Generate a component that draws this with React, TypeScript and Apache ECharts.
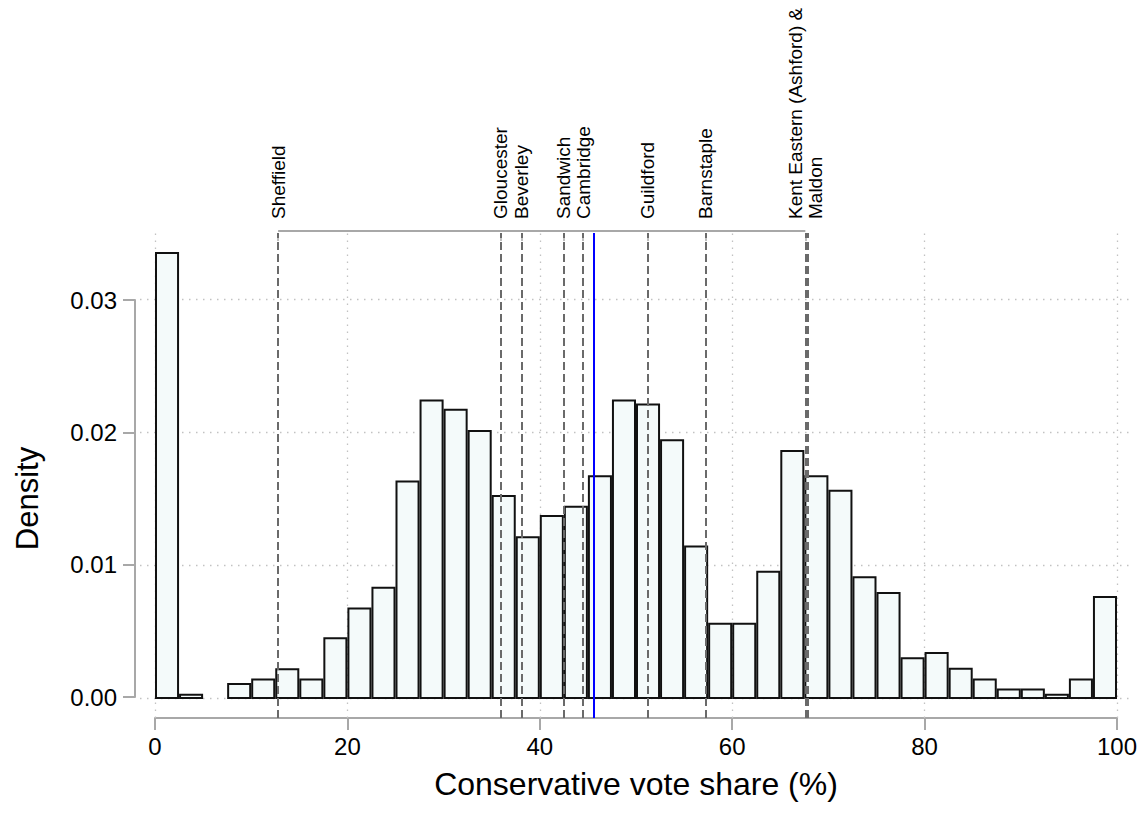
import React, { useEffect, useRef } from "react";
import * as echarts from "echarts";

// Histogram bins (Conservative vote share, %)
const binStart = [
  0, 2.5, 5, 7.5, 10, 12.5, 15, 17.5, 20, 22.5, 25, 27.5, 30, 32.5, 35, 37.5, 40, 42.5, 45, 47.5,
  50, 52.5, 55, 57.5, 60, 62.5, 65, 67.5, 70, 72.5, 75, 77.5, 80, 82.5, 85, 87.5, 90, 92.5, 95, 97.5,
];
const binWidth = 2.5;
const density = [
  0.0335, 0.00025, 0, 0.00105, 0.0014, 0.00216, 0.0014, 0.0045, 0.00675, 0.0083,
  0.0163, 0.0224, 0.0217, 0.0201, 0.0152, 0.0121, 0.0137, 0.0144, 0.0167, 0.0224,
  0.0221, 0.0194, 0.0114, 0.0056, 0.0056, 0.0095, 0.0186, 0.0167, 0.0156, 0.0091,
  0.0079, 0.003, 0.0034, 0.0022, 0.0014, 0.00065, 0.00065, 0.00025, 0.0014, 0.0076,
];

// Reference constituencies (dashed lines)
const constituencies = [
  "Sheffield", "Gloucester", "Beverley", "Sandwich", "Cambridge",
  "Guildford", "Barnstaple", "Kent Eastern (Ashford)", "Maldon",
];
const constituencyShare = [12.8, 35.9, 38.1, 42.45, 44.5, 51.2, 57.2, 67.6, 67.9];

// Top labels
const topLabelValues = [12.8, 35.9, 38.1, 42.45, 44.5, 51.2, 57.2, 67.6];
const topLabelNames = [
  "Sheffield", "Gloucester", "Beverley", "Sandwich", "Cambridge",
  "Guildford", "Barnstaple", "Kent Eastern (Ashford) &\nMaldon",
];

const meanShare = 45.6;
const xTicks = [0, 20, 40, 60, 80, 100];
const yTicks = [0, 0.01, 0.02, 0.03];

const FONT = "'Liberation Sans', Arial, Helvetica, sans-serif";
const AXIS_GRAY = "#a8a8a8";

export default function App() {
  const ref = useRef<HTMLDivElement>(null);

  useEffect(() => {
    if (!ref.current) return;
    const chart = echarts.init(ref.current, null, { renderer: "svg" });

    const option: any = {
      animation: false,
      backgroundColor: "#ffffff",
      textStyle: { fontFamily: FONT, color: "#000" },
      grid: [
        { left: 140, right: 12, top: 233, bottom: 95 },
        { left: 155, right: 28, top: 231, height: 10 },
        { left: 155, right: 28, top: 233, bottom: 95 },
        { left: 135, right: 10, top: 300, bottom: 116 },
      ],
      xAxis: [
        { gridIndex: 0, type: "value", min: -1.559, max: 101.663, show: false },
        {
          gridIndex: 1,
          type: "value",
          min: 0,
          max: 100,
          position: "top",
          axisLine: { show: false },
          splitLine: { show: false },
          axisTick: {
            show: true,
            customValues: topLabelValues,
            length: 5,
            lineStyle: { color: AXIS_GRAY, width: 1.5 },
          },
          axisLabel: {
            customValues: topLabelValues,
            rotate: 90,
            margin: 12,
            fontSize: 19,
            lineHeight: 20,
            color: "#000",
            fontFamily: FONT,
            formatter: (v: number) => {
              const i = topLabelValues.findIndex((t) => Math.abs(t - v) < 1e-6);
              return i >= 0 ? topLabelNames[i] : "";
            },
          },
        },
        {
          gridIndex: 2,
          type: "value",
          min: 0,
          max: 100,
          interval: 20,
          axisLine: { show: true, lineStyle: { color: AXIS_GRAY, width: 2 } },
          axisTick: { show: true, length: 12, lineStyle: { color: AXIS_GRAY, width: 2 } },
          axisLabel: { fontSize: 24, margin: 16, color: "#000", fontFamily: FONT },
          splitLine: { show: false },
          name: "Conservative vote share (%)",
          nameLocation: "middle",
          nameGap: 50,
          nameTextStyle: { fontSize: 32, color: "#000", fontFamily: FONT },
        },
        { gridIndex: 3, type: "value", show: false },
      ],
      yAxis: [
        { gridIndex: 0, type: "value", min: -0.0015, max: 0.035, show: false },
        { gridIndex: 1, type: "value", min: 0, max: 1, show: false },
        { gridIndex: 2, type: "value", show: false },
        {
          gridIndex: 3,
          type: "value",
          min: 0,
          max: 0.03,
          interval: 0.01,
          axisLine: { show: true, lineStyle: { color: AXIS_GRAY, width: 2 } },
          axisTick: { show: true, length: 12, lineStyle: { color: AXIS_GRAY, width: 2 } },
          axisLabel: {
            fontSize: 24,
            margin: 18,
            color: "#000",
            fontFamily: FONT,
            formatter: (v: number) => v.toFixed(2),
          },
          splitLine: { show: false },
          name: "Density",
          nameLocation: "middle",
          nameGap: 92,
          nameTextStyle: { fontSize: 31, color: "#000", fontFamily: FONT },
        },
      ],
      series: [
        {
          type: "line",
          xAxisIndex: 0,
          yAxisIndex: 0,
          data: [[0, 0]],
          showSymbol: false,
          symbol: "none",
          lineStyle: { opacity: 0 },
          z: 1,
          markLine: {
            silent: true,
            z: 1,
            symbol: ["none", "none"],
            label: { show: false },
            lineStyle: { color: "#c2c2c2", type: [1.5, 5.5], width: 1.3 },
            data: [
              ...xTicks.map((x) => ({ xAxis: x })),
              ...yTicks.map((y) => ({ yAxis: y })),
            ],
          },
        },
        {
          type: "custom",
          xAxisIndex: 0,
          yAxisIndex: 0,
          z: 10,
          encode: { x: [0, 1], y: 2 },
          data: binStart.map((s, i) => [s, s + binWidth, density[i]]),
          renderItem: (params: any, api: any) => {
            const h = api.value(2);
            if (!h) return null;
            const p0 = api.coord([api.value(0), h]);
            const p1 = api.coord([api.value(1), 0]);
            return {
              type: "rect",
              shape: {
                x: p0[0] + 1,
                y: p0[1],
                width: p1[0] - p0[0] - 2,
                height: p1[1] - p0[1],
              },
              style: { fill: "#f4fafa", stroke: "#111111", lineWidth: 2 },
            };
          },
        },
        {
          type: "line",
          xAxisIndex: 0,
          yAxisIndex: 0,
          data: [[0, 0]],
          showSymbol: false,
          symbol: "none",
          lineStyle: { opacity: 0 },
          z: 20,
          markLine: {
            silent: true,
            z: 20,
            symbol: ["none", "none"],
            label: { show: false },
            lineStyle: { color: "#6a6a6a", type: [8, 4], width: 2 },
            data: constituencyShare.map((v, i) => ({ xAxis: v, name: constituencies[i] })),
          },
        },
        {
          type: "line",
          xAxisIndex: 0,
          yAxisIndex: 0,
          data: [[0, 0]],
          showSymbol: false,
          symbol: "none",
          lineStyle: { opacity: 0 },
          z: 21,
          markLine: {
            silent: true,
            z: 21,
            symbol: ["none", "none"],
            label: { show: false },
            lineStyle: { color: "#0000ff", type: "solid", width: 2 },
            data: [{ xAxis: meanShare }],
          },
        },
        {
          type: "line",
          xAxisIndex: 1,
          yAxisIndex: 1,
          symbol: "none",
          lineStyle: { color: AXIS_GRAY, width: 2 },
          data: [
            [topLabelValues[0], 1],
            [topLabelValues[topLabelValues.length - 1], 1],
          ],
        },
      ],
    };

    chart.setOption(option);
    return () => chart.dispose();
  }, []);

  return (
    <div
      ref={ref}
      style={{ position: "fixed", left: 0, top: 0, width: 1145, height: 813, background: "#fff" }}
    />
  );
}
